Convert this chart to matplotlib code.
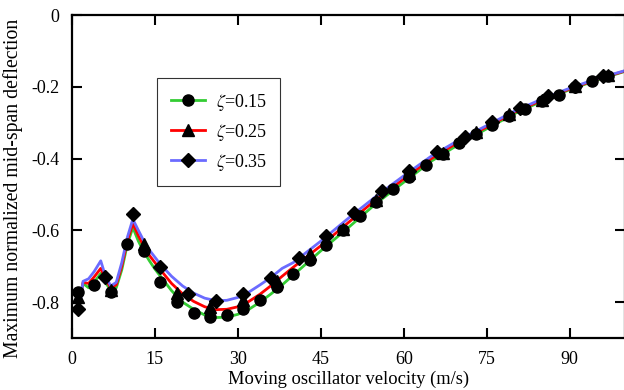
import matplotlib
matplotlib.use("Agg")
import matplotlib.pyplot as plt
from matplotlib.lines import Line2D

plt.rcParams['font.family'] = ['Liberation Serif', 'DejaVu Serif']
plt.rcParams['mathtext.fontset'] = 'stix'

# continuous curves
x_line = [1.5, 2, 3, 4, 5.2, 6, 7, 8, 9, 10, 11, 12, 13, 14, 15, 16, 18, 20, 22, 24,
          26, 28, 30, 32, 34, 36, 38, 40, 45, 50, 55, 60, 65, 70, 75, 80, 85, 90, 95, 100]
y_015 = [-0.78, -0.748, -0.76, -0.745, -0.72, -0.745, -0.766, -0.76, -0.71, -0.64,
         -0.592, -0.63, -0.66, -0.685, -0.708, -0.728, -0.768, -0.80, -0.82, -0.836,
         -0.843, -0.842, -0.834, -0.82, -0.80, -0.777, -0.752, -0.725, -0.657, -0.592,
         -0.525, -0.466, -0.407, -0.36, -0.317, -0.275, -0.24, -0.208, -0.181, -0.157]
y_025 = [-0.79, -0.745, -0.748, -0.73, -0.706, -0.735, -0.76, -0.752, -0.70, -0.63,
         -0.581, -0.615, -0.645, -0.67, -0.69, -0.71, -0.748, -0.777, -0.798, -0.813,
         -0.821, -0.82, -0.813, -0.798, -0.778, -0.754, -0.728, -0.703, -0.643, -0.578,
         -0.514, -0.457, -0.40, -0.353, -0.312, -0.271, -0.237, -0.206, -0.179, -0.156]
y_035 = [-0.80, -0.742, -0.735, -0.715, -0.685, -0.725, -0.755, -0.745, -0.69, -0.62,
         -0.569, -0.60, -0.63, -0.655, -0.675, -0.695, -0.728, -0.755, -0.775, -0.789,
         -0.796, -0.795, -0.787, -0.772, -0.752, -0.731, -0.706, -0.69, -0.63, -0.566,
         -0.505, -0.448, -0.393, -0.348, -0.308, -0.268, -0.234, -0.204, -0.177, -0.155]

# discrete markers
x_circ = [1, 4, 7, 10, 13, 16, 19, 22, 25, 28, 31, 34, 37, 40, 43, 46, 49, 52, 55, 58,
          61, 64, 67, 70, 73, 76, 79, 82, 85, 88, 91, 94, 97]
y_circ = [-0.772, -0.751, -0.772, -0.639, -0.658, -0.743, -0.799, -0.83, -0.842, -0.837,
          -0.819, -0.793, -0.759, -0.722, -0.683, -0.641, -0.60, -0.56, -0.521, -0.486,
          -0.451, -0.417, -0.387, -0.357, -0.331, -0.306, -0.282, -0.262, -0.241, -0.222,
          -0.201, -0.185, -0.171]
x_tri = [1, 7, 13, 19, 25, 31, 37, 43, 49, 55, 61, 67, 73, 79, 85, 91, 97]
y_tri = [-0.785, -0.765, -0.637, -0.776, -0.815, -0.794, -0.741, -0.667, -0.595, -0.515,
         -0.44, -0.385, -0.325, -0.277, -0.236, -0.199, -0.168]
x_dia = [1, 6, 11, 16, 21, 26, 31, 36, 41, 46, 51, 56, 61, 66, 71, 76, 81, 86, 91, 96]
y_dia = [-0.818, -0.729, -0.554, -0.701, -0.778, -0.798, -0.778, -0.734, -0.676, -0.616,
         -0.551, -0.491, -0.435, -0.381, -0.34, -0.299, -0.259, -0.227, -0.197, -0.171]

labels = [r'$\zeta$=0.15', r'$\zeta$=0.25', r'$\zeta$=0.35']
colors = ['#33cc33', '#ff0000', '#6b6bff']

fig = plt.figure(figsize=(6.24, 3.9), dpi=100)
ax = fig.add_axes([72 / 624, 1 - 338 / 390, 553 / 624, 323 / 390])

ax.plot(x_line, y_015, color=colors[0], lw=2, zorder=2)
ax.plot(x_line, y_025, color=colors[1], lw=2, zorder=2)
ax.plot(x_line, y_035, color=colors[2], lw=2, zorder=2)
ax.plot(x_circ, y_circ, 'o', color='black', ms=8, ls='none', zorder=3)
ax.plot(x_tri, y_tri, '^', color='black', ms=8, ls='none', zorder=3)
ax.plot(x_dia, y_dia, 'D', color='black', ms=7, ls='none', zorder=3)

ax.set_xlim(0, 100)
ax.set_ylim(-0.9, 0)
ax.set_xticks([0, 15, 30, 45, 60, 75, 90])
ax.set_yticks([0, -0.2, -0.4, -0.6, -0.8])
ax.set_yticklabels(['0', '-0.2', '-0.4', '-0.6', '-0.8'])
ax.tick_params(direction='in', length=7, width=1.5, top=True, right=True,
               labelsize=13, pad=9)
for s in ax.spines.values():
    s.set_linewidth(1.6)

ax.set_xlabel('Moving oscillator velocity (m/s)', fontsize=13.3, labelpad=2)
ax.set_ylabel('Maximum normalized mid-span deflection', fontsize=14.2)
ax.yaxis.set_label_coords(-0.088, 0.462)

handles = [
    Line2D([], [], color=colors[0], lw=2, marker='o', mfc='black', mec='black', ms=8),
    Line2D([], [], color=colors[1], lw=2, marker='^', mfc='black', mec='black', ms=8),
    Line2D([], [], color=colors[2], lw=2, marker='D', mfc='black', mec='black', ms=7),
]
leg = ax.legend(handles, labels, loc='upper left', bbox_to_anchor=(85 / 553, 1 - 63 / 323),
                fontsize=13, frameon=True, fancybox=False, edgecolor='black',
                handlelength=1.9, borderpad=0.75, labelspacing=0.5, handletextpad=0.6,
                borderaxespad=0)
leg.get_frame().set_linewidth(0.8)

fig.savefig('out.png', dpi=100)
